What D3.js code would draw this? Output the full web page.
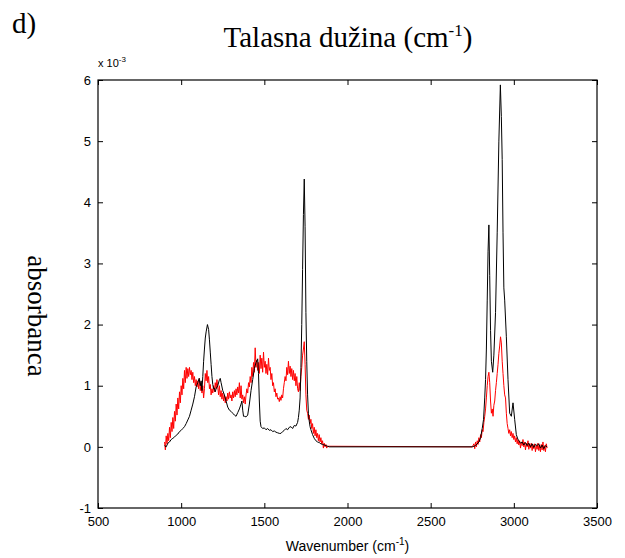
<!DOCTYPE html>
<html>
<head>
<meta charset="utf-8">
<script src="https://cdn.jsdelivr.net/npm/d3@7"></script>
<style>
  html, body { margin: 0; padding: 0; background: #fff; }
  svg { display: block; }
</style>
</head>
<body>
<div id="chart"></div>
<script>
// absorbance values are in units of 10^-3
const xTicks = [500, 1000, 1500, 2000, 2500, 3000, 3500];
const yTicks = [-1, 0, 1, 2, 3, 4, 5, 6];

const blackSpectrum = [
  [900,0.02],[910,0.0],[920,0.06],[930,0.08],[940,0.12],[950,0.14],[960,0.16],[970,0.19],[980,0.21],
  [990,0.25],[1000,0.27],[1010,0.30],[1020,0.33],[1030,0.38],[1040,0.44],[1050,0.50],[1060,0.60],
  [1070,0.70],[1080,0.82],[1090,0.98],[1100,1.05],[1108,1.12],[1115,1.00],[1120,1.08],[1125,0.92],
  [1130,1.15],[1135,1.40],[1140,1.60],[1145,1.78],[1150,1.88],[1158,2.00],[1165,1.92],[1170,1.75],
  [1175,1.55],[1180,1.35],[1185,1.15],[1190,1.02],[1195,0.95],[1200,0.96],[1205,0.90],[1210,0.95],
  [1220,1.00],[1230,1.10],[1235,1.12],[1240,1.05],[1250,0.92],[1260,0.85],[1270,0.75],[1280,0.65],
  [1290,0.60],[1300,0.58],[1310,0.55],[1320,0.52],[1330,0.50],[1340,0.56],[1350,0.62],[1360,0.70],
  [1365,0.75],[1370,0.60],[1375,0.50],[1380,0.50],[1390,0.49],[1400,0.52],[1410,0.70],[1420,0.92],
  [1430,1.10],[1440,1.28],[1450,1.38],[1460,1.44],[1465,1.20],[1470,0.75],[1475,0.42],[1480,0.33],
  [1490,0.30],[1500,0.31],[1510,0.28],[1520,0.30],[1530,0.27],[1540,0.28],[1550,0.25],[1560,0.26],
  [1570,0.24],[1580,0.23],[1590,0.22],[1600,0.22],[1610,0.25],[1620,0.27],[1630,0.30],[1640,0.28],
  [1650,0.32],[1660,0.33],[1670,0.30],[1680,0.35],[1690,0.34],[1700,0.40],[1705,0.48],[1710,0.60],
  [1715,0.80],[1720,1.30],[1725,2.00],[1730,2.90],[1735,3.80],[1740,4.38],[1745,3.60],[1750,2.20],
  [1755,1.40],[1760,0.85],[1765,0.55],[1770,0.42],[1775,0.33],[1780,0.28],[1790,0.20],[1800,0.14],
  [1810,0.10],[1820,0.08],[1830,0.07],[1840,0.05],[1850,0.04],[1860,0.03],[1870,0.02],[1880,0.01],
  [1890,0.0],[2750,0.0],[2770,0.02],[2790,0.08],[2800,0.15],[2810,0.30],[2818,0.45],[2825,0.80],
  [2830,1.10],[2835,1.60],[2840,2.40],[2845,3.20],[2850,3.63],[2855,2.80],[2860,1.90],[2865,1.40],
  [2873,1.22],[2880,1.50],[2890,2.20],[2900,3.50],[2910,5.00],[2919,5.92],[2925,5.40],[2930,4.70],
  [2935,3.50],[2940,2.60],[2945,2.40],[2955,1.80],[2965,1.10],[2975,0.55],[2985,0.50],[2995,0.72],
  [3005,0.45],[3015,0.20],[3025,0.12],[3030,0.10],[3040,0.06],[3050,0.08],[3060,0.03],[3070,0.07],
  [3080,0.02],[3090,0.06],[3100,0.0],[3110,0.05],[3120,-0.01],[3130,0.04],[3140,0.02],[3150,0.05],
  [3160,-0.02],[3170,0.03],[3180,-0.03],[3190,0.02],[3200,0.0]
];

const redSpectrum = [
  [900,0.08],[905,-0.05],[910,0.18],[915,0.05],[920,0.22],[925,0.10],[930,0.32],[935,0.15],[940,0.40],
  [945,0.25],[950,0.48],[955,0.30],[960,0.58],[965,0.42],[970,0.70],[975,0.52],[980,0.80],[985,0.62],
  [990,0.90],[995,0.72],[1000,1.00],[1005,0.85],[1010,1.12],[1015,0.95],[1020,1.25],[1025,1.05],
  [1030,1.30],[1035,1.12],[1040,1.28],[1045,1.15],[1050,1.30],[1055,1.18],[1060,1.25],[1065,1.10],
  [1070,1.22],[1075,1.05],[1080,1.15],[1085,1.00],[1090,1.10],[1095,0.98],[1100,1.08],[1105,0.95],
  [1110,1.12],[1115,0.92],[1120,1.05],[1125,0.88],[1130,1.00],[1135,0.80],[1140,0.95],[1145,1.20],
  [1150,1.08],[1155,1.25],[1160,1.05],[1165,1.15],[1170,0.95],[1175,1.02],[1180,0.85],[1185,0.95],
  [1190,0.88],[1195,1.00],[1200,0.90],[1205,1.05],[1210,0.95],[1215,1.10],[1220,0.98],[1225,0.85],
  [1230,1.00],[1235,0.82],[1240,0.92],[1245,0.78],[1250,0.88],[1255,0.75],[1260,0.85],[1265,0.72],
  [1270,0.82],[1275,0.75],[1280,0.88],[1285,0.78],[1290,0.90],[1295,0.80],[1300,0.85],[1305,0.75],
  [1310,0.90],[1315,0.80],[1320,0.92],[1325,0.82],[1330,0.95],[1335,0.85],[1340,0.98],[1345,0.88],
  [1350,1.05],[1355,0.80],[1360,1.00],[1365,0.78],[1370,0.85],[1375,0.72],[1380,0.82],[1385,0.70],
  [1390,0.85],[1395,0.95],[1400,0.88],[1405,1.05],[1410,0.98],[1415,1.15],[1420,1.05],[1425,1.30],
  [1430,1.15],[1435,1.38],[1440,1.22],[1445,1.62],[1450,1.30],[1455,1.42],[1460,1.25],[1465,1.38],
  [1470,1.20],[1475,1.50],[1480,1.28],[1485,1.45],[1490,1.22],[1495,1.55],[1500,1.30],[1505,1.40],
  [1510,1.20],[1515,1.35],[1520,1.18],[1525,1.45],[1530,1.25],[1535,1.30],[1540,1.10],[1545,1.20],
  [1550,1.00],[1555,1.05],[1560,0.90],[1565,0.95],[1570,0.82],[1575,0.88],[1580,0.78],[1585,0.80],
  [1590,0.74],[1595,0.82],[1600,0.76],[1605,0.85],[1610,0.80],[1615,0.95],[1620,1.05],[1625,1.15],
  [1630,1.08],[1635,1.30],[1640,1.18],[1645,1.40],[1650,1.20],[1655,1.32],[1660,1.15],[1665,1.28],
  [1670,1.10],[1675,1.25],[1680,1.08],[1685,1.20],[1690,1.00],[1695,1.15],[1700,0.95],[1705,0.90],
  [1710,1.05],[1715,0.92],[1720,1.15],[1725,1.30],[1730,1.50],[1735,1.60],[1740,1.72],[1745,1.35],
  [1750,0.85],[1755,0.60],[1760,0.55],[1765,0.45],[1770,0.52],[1775,0.38],[1780,0.45],[1785,0.30],
  [1790,0.38],[1795,0.22],[1800,0.32],[1805,0.18],[1810,0.28],[1815,0.15],[1820,0.22],[1825,0.10],
  [1830,0.20],[1835,0.08],[1840,0.15],[1845,0.05],[1850,0.10],[1855,-0.02],[1860,0.06],[1865,0.00],
  [1870,0.04],[1875,-0.02],[1880,0.01],[2750,0.0],[2760,0.05],[2765,-0.03],[2770,0.08],[2775,0.0],
  [2780,0.10],[2785,0.04],[2790,0.15],[2795,0.08],[2800,0.20],[2805,0.15],[2810,0.28],[2815,0.25],
  [2820,0.40],[2825,0.50],[2830,0.62],[2835,0.80],[2840,1.00],[2845,1.15],[2850,1.22],[2855,1.05],
  [2860,0.75],[2865,0.55],[2870,0.62],[2875,0.50],[2880,0.68],[2885,0.75],[2890,0.92],[2895,1.05],
  [2900,1.20],[2905,1.35],[2910,1.53],[2915,1.65],[2920,1.80],[2925,1.70],[2930,1.40],[2935,1.20],
  [2940,1.00],[2945,0.85],[2950,0.80],[2955,0.55],[2960,0.38],[2965,0.30],[2970,0.22],[2975,0.28],
  [2980,0.18],[2985,0.25],[2990,0.15],[2995,0.22],[3000,0.12],[3005,0.18],[3010,0.08],[3015,0.15],
  [3020,0.05],[3025,0.12],[3030,0.03],[3035,0.10],[3040,-0.02],[3045,0.08],[3050,0.02],[3055,0.12],
  [3060,0.0],[3065,0.08],[3070,-0.05],[3075,0.06],[3080,0.0],[3085,0.10],[3090,-0.04],[3095,0.05],
  [3100,-0.02],[3105,0.06],[3110,-0.06],[3115,0.04],[3120,-0.03],[3125,0.05],[3130,-0.08],[3135,0.02],
  [3140,-0.04],[3145,0.06],[3150,-0.06],[3155,0.03],[3160,-0.08],[3165,0.04],[3170,-0.05],[3175,0.08],
  [3180,-0.06],[3185,0.02],[3190,-0.08],[3195,0.05],[3200,-0.02]
];

const totalW = 625, totalH = 558;
const box = { left: 98, right: 597, top: 80, bottom: 508 };
const SANS = "'Liberation Sans', Arial, sans-serif";
const SERIF = "'Liberation Serif', 'Times New Roman', serif";

const svg = d3.select("#chart").append("svg")
  .attr("width", totalW).attr("height", totalH)
  .attr("viewBox", `0 0 ${totalW} ${totalH}`);

svg.append("rect").attr("width", totalW).attr("height", totalH).attr("fill", "#fff");

const x = d3.scaleLinear().domain([500, 3500]).range([box.left, box.right]);
const y = d3.scaleLinear().domain([-1, 6]).range([box.bottom, box.top]);

svg.append("defs").append("clipPath").attr("id", "plot-clip")
  .append("rect").attr("x", box.left).attr("y", box.top)
  .attr("width", box.right - box.left).attr("height", box.bottom - box.top);

// spectra -- red under, black on top
const line = d3.line().x(d => x(d[0])).y(d => y(d[1]));
const plot = svg.append("g").attr("clip-path", "url(#plot-clip)");
plot.append("path").datum(redSpectrum).attr("d", line)
  .attr("fill", "none").attr("stroke", "#ff0000").attr("stroke-width", 1);
plot.append("path").datum(blackSpectrum).attr("d", line)
  .attr("fill", "none").attr("stroke", "#000").attr("stroke-width", 1);

// axes, MATLAB style: ticks inside, box on all sides
const TICK = 5;
const plain = d => String(d); // plain hyphen minus, no thousands separator
const styleAxis = sel => sel
  .call(a => a.select(".domain").remove())
  .call(a => a.selectAll("line").attr("stroke", "#000"))
  .call(a => a.selectAll("text").attr("fill", "#000")
    .style("font-family", SANS).style("font-size", "13px"));

svg.append("g").attr("transform", `translate(0,${box.bottom})`)
  .call(d3.axisBottom(x).tickValues(xTicks).tickFormat(plain)
    .tickSizeInner(-TICK).tickSizeOuter(0).tickPadding(TICK + 4))
  .call(styleAxis);
svg.append("g").attr("transform", `translate(0,${box.top})`)
  .call(d3.axisTop(x).tickValues(xTicks).tickSizeInner(-TICK).tickSizeOuter(0).tickFormat(""))
  .call(styleAxis);
svg.append("g").attr("transform", `translate(${box.left},0)`)
  .call(d3.axisLeft(y).tickValues(yTicks).tickFormat(plain)
    .tickSizeInner(-TICK).tickSizeOuter(0).tickPadding(TICK + 2))
  .call(styleAxis);
svg.append("g").attr("transform", `translate(${box.right},0)`)
  .call(d3.axisRight(y).tickValues(yTicks).tickSizeInner(-TICK).tickSizeOuter(0).tickFormat(""))
  .call(styleAxis);

svg.append("rect")
  .attr("x", box.left).attr("y", box.top)
  .attr("width", box.right - box.left).attr("height", box.bottom - box.top)
  .attr("fill", "none").attr("stroke", "#000").attr("stroke-width", 1.2);

// exponent label
const expo = svg.append("text").attr("x", box.left).attr("y", 67)
  .attr("fill", "#000").style("font-family", SANS).style("font-size", "11px");
expo.append("tspan").text("x 10");
expo.append("tspan").attr("dy", -5).style("font-size", "8px").text("-3");

// x axis label
const xl = svg.append("text").attr("x", (box.left + box.right) / 2).attr("y", 551)
  .attr("text-anchor", "middle").attr("fill", "#000")
  .style("font-family", SANS).style("font-size", "14px");
xl.append("tspan").text("Wavenumber (cm");
xl.append("tspan").attr("dy", -6).style("font-size", "10px").text("-1");
xl.append("tspan").attr("dy", 6).text(")");

// title
const title = svg.append("text").attr("x", 348).attr("y", 47)
  .attr("text-anchor", "middle").attr("fill", "#000")
  .style("font-family", SERIF).style("font-size", "29px");
title.append("tspan").text("Talasna dužina (cm");
title.append("tspan").attr("dy", -11).style("font-size", "17px").text("-1");
title.append("tspan").attr("dy", 11).text(")");

// panel letter
svg.append("text").attr("x", 12).attr("y", 33)
  .attr("fill", "#000").style("font-family", SERIF).style("font-size", "29px")
  .text("d)");

// y axis label, rotated to read downward
svg.append("text")
  .attr("transform", "translate(28,316) rotate(90)")
  .attr("text-anchor", "middle").attr("fill", "#000")
  .style("font-family", SERIF).style("font-size", "27px")
  .text("absorbanca");
</script>
</body>
</html>
